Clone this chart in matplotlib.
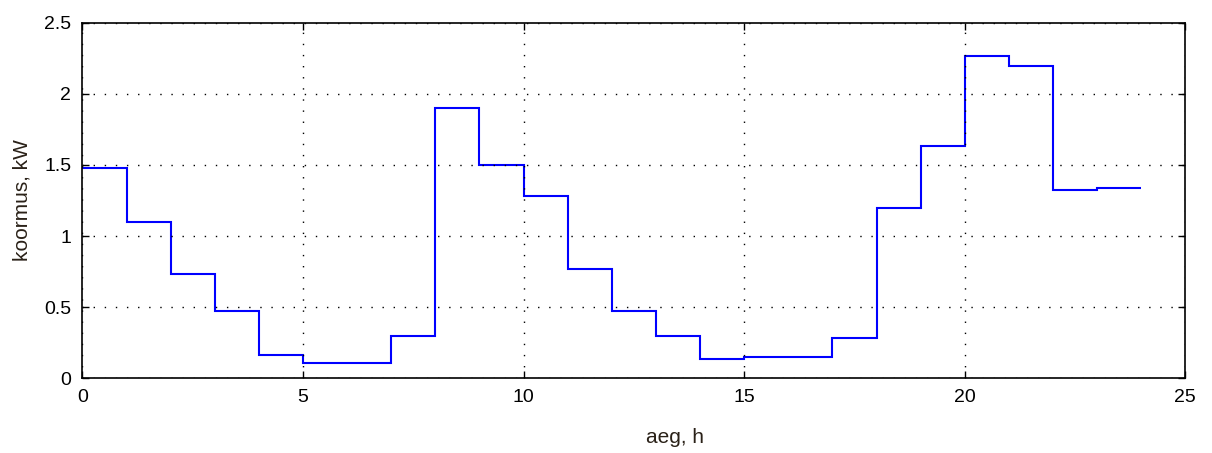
import numpy as np
from matplotlib import pyplot as plt

plt.rcParams['font.family'] = ['Liberation Sans', 'DejaVu Sans']

# hour edges and load per hour (kW)
hours = list(range(0, 25))
load = [1.48, 1.10, 0.73, 0.47, 0.16, 0.105, 0.105, 0.30,
        1.90, 1.50, 1.28, 0.77, 0.47, 0.30, 0.135, 0.15,
        0.15, 0.285, 1.20, 1.63, 2.265, 2.195, 1.325, 1.34]

x_ticks = [0, 5, 10, 15, 20, 25]
y_ticks = [0, 0.5, 1, 1.5, 2, 2.5]
y_tick_labels = ['0', '0.5', '1', '1.5', '2', '2.5']

fig = plt.figure(figsize=(12.12, 4.53), dpi=100)
ax = fig.add_axes([0.068, 0.165, 0.910, 0.785])

ax.stairs(load, hours, color='#0000ff', linewidth=1.5, baseline=None)

ax.set_xlim(0, 25)
ax.set_ylim(0, 2.5)
ax.set_xticks(x_ticks)
ax.set_yticks(y_ticks)
ax.set_yticklabels(y_tick_labels)
ax.grid(True, color='black', linestyle=(0, (1, 7)), linewidth=1.0)

ax.tick_params(direction='in', top=True, right=True, length=5, width=1,
               labelsize=14, pad=8)
for s in ax.spines.values():
    s.set_linewidth(1.2)

ax.set_xlabel('aeg, h', fontsize=15, color='#2a2118')
ax.xaxis.set_label_coords(0.537, -0.14)
ax.set_ylabel('koormus, kW', fontsize=15, color='#2a2118', labelpad=9)

fig.savefig('out.png', dpi=100)
